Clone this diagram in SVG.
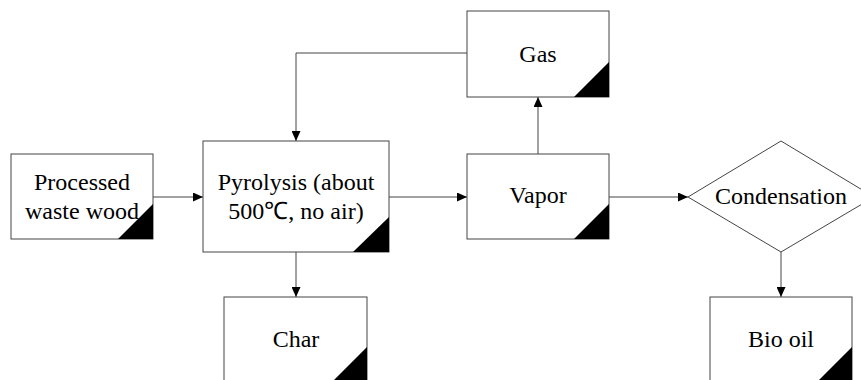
<svg xmlns="http://www.w3.org/2000/svg" width="861" height="380" viewBox="0 0 861 380">
<style>
.box{fill:#fff;stroke:#444;stroke-width:1}
.tri{fill:#000}
.t{font-family:"Liberation Serif","Times New Roman",serif;font-size:24px;fill:#000;text-anchor:middle}
.c{fill:none;stroke:#444;stroke-width:1}
</style>
<defs>
<marker id="ah" markerWidth="10" markerHeight="9" refX="10" refY="4.5" orient="auto" markerUnits="userSpaceOnUse">
<path d="M0,0 L10,4.5 L0,9 Z" fill="#000"/>
</marker>
</defs>
<rect width="861" height="380" fill="#fff"/>
<g id="connectors">
<line class="c" x1="153" y1="197" x2="203" y2="197" marker-end="url(#ah)"/>
<line class="c" x1="389" y1="197" x2="467" y2="197" marker-end="url(#ah)"/>
<line class="c" x1="609" y1="197" x2="688" y2="197" marker-end="url(#ah)"/>
<line class="c" x1="538" y1="154" x2="538" y2="97" marker-end="url(#ah)"/>
<polyline class="c" points="467,53 296,53 296,141" marker-end="url(#ah)"/>
<line class="c" x1="296" y1="252" x2="296" y2="297" marker-end="url(#ah)"/>
<line class="c" x1="781" y1="252" x2="781" y2="297" marker-end="url(#ah)"/>
</g>
<g id="processed">
<rect class="box" x="11" y="154" width="142" height="85"/>
<polygon class="tri" points="118,239 153,239 153,204"/>
<text class="t" x="82" y="190">Processed</text>
<text class="t" x="82" y="219">waste wood</text>
</g>
<g id="pyrolysis">
<rect class="box" x="203" y="141" width="186" height="111"/>
<polygon class="tri" points="353,252 389,252 389,217"/>
<text class="t" x="296" y="190">Pyrolysis (about</text>
<text class="t" x="296" y="219">500℃, no air)</text>
</g>
<g id="gas">
<rect class="box" x="467" y="11" width="142" height="86"/>
<polygon class="tri" points="574,97 609,97 609,62"/>
<text class="t" x="538" y="62">Gas</text>
</g>
<g id="vapor">
<rect class="box" x="467" y="154" width="142" height="85"/>
<polygon class="tri" points="574,239 609,239 609,204"/>
<text class="t" x="538" y="203">Vapor</text>
</g>
<g id="condensation">
<polygon class="box" points="688,197 781,141 874,197 781,252"/>
<text class="t" x="781" y="204">Condensation</text>
</g>
<g id="char">
<rect class="box" x="224" y="297" width="143" height="85"/>
<polygon class="tri" points="332,382 367,382 367,347"/>
<text class="t" x="296" y="347">Char</text>
</g>
<g id="biooil">
<rect class="box" x="710" y="297" width="142" height="85"/>
<polygon class="tri" points="817,382 852,382 852,347"/>
<text class="t" x="781" y="347">Bio oil</text>
</g>
</svg>
